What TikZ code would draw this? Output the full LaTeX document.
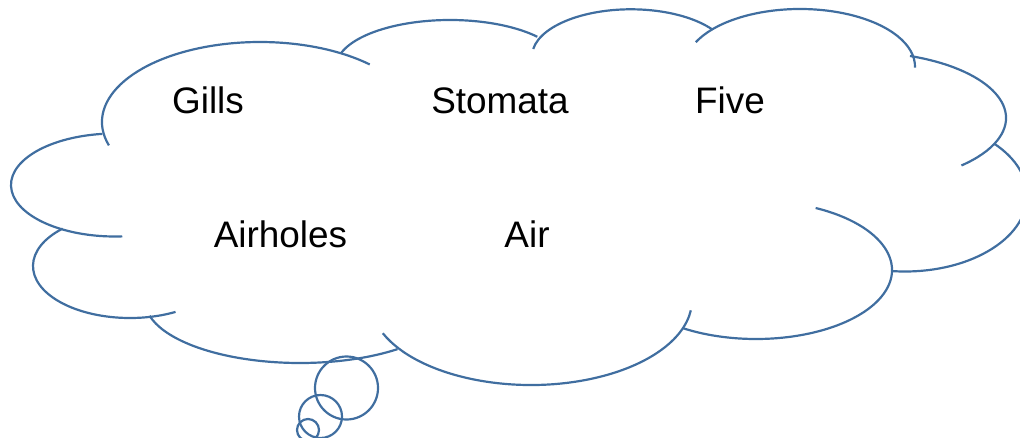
\documentclass[tikz,border=0pt]{standalone}
\usepackage{fontspec}
\setmainfont{Liberation Sans}
\usepackage{tikz}

\definecolor{cloudblue}{RGB}{64,110,160}

\begin{document}
\begin{tikzpicture}[x=0.02cm,y=0.02cm,
    cloudline/.style={draw=cloudblue,line width=1.25pt},
    word/.style={anchor=base,inner sep=0pt,font=\fontsize{21}{25}\selectfont}]
	\useasboundingbox (0,0) rectangle (1020,437);
	\clip (0,0) rectangle (1020,437);

	% lobes of the cloud: centre x/y, radii, start and end angle
	\foreach \cx/\cy/\rx/\ry/\a/\b in {
	    260/315/158/80/197/46,
	    450/370/114/47/163/40,
	    631/380.7/99/47/171/35,
	    800/370.4/115/57.6/155/-1,
	    860/319/146/66/70/-46,
	    905/241.5/122/76/43/-96,
	    756/167/136/69/64/-122.5,
	    531/137/161/85/203/353,
	    300/136.3/155/62.3/194/309,
	    130/171/97/52/134/298,
	    115/252/104/51.5/97/274}{
   	   \draw[cloudline] ([shift={({\a}:{\rx} and {\ry})}]\cx,\cy)
   	      arc[start angle=\a,end angle=\b,x radius=\rx,y radius=\ry];
  	}

	% thought bubbles
	\foreach \cx/\cy/\r in {346.5/49/31.5, 320.5/20.5/21.5, 308/7/11}{
   	   \draw[cloudline] (\cx,\cy) circle [radius=\r];
  	}

	\node[word] (gills) at (208,324) {Gills};
	\node[word] (stomata) at (500,324) {Stomata};
	\node[word] (five) at (730,324) {Five};
	\node[word] (airholes) at (280.5,190) {Airholes};
	\node[word] (air) at (527,190) {Air};
\end{tikzpicture}
\end{document}
